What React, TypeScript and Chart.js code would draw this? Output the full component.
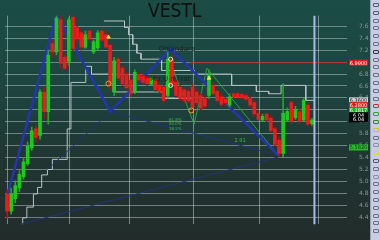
import React, { useEffect, useRef } from 'react';
import { Chart, registerables } from 'chart.js';
Chart.register(...registerables);

// ---- candle data (price) ----
const openP = [4.79,4.50,4.71,4.89,5.08,5.30,5.56,5.88,5.77,6.50,6.17,7.31,7.17,7.71,7.08,7.01,7.75,7.58,7.49,7.25,7.52,7.17,7.24,7.52,7.46,7.28,6.50,7.05,6.90,6.80,6.69,6.50,6.79,6.76,6.73,6.63,6.71,6.61,6.58,6.44,7.05,6.66,6.58,6.54,6.51,6.58,6.50,6.44,6.39,6.44,6.61,6.51,6.42,6.38,6.28,6.47,6.47,6.46,6.44,6.39,6.32,6.14,6.03,6.13,6.06,5.88,5.69,5.47,6.03,6.32,6.07,6.17,6.03,6.28,5.97];
const highP = [4.86,4.89,5.01,5.18,5.40,5.66,5.91,5.93,6.54,6.58,7.20,7.37,7.78,7.78,7.12,7.75,7.78,7.60,7.53,7.52,7.55,7.37,7.53,7.56,7.52,7.31,7.08,7.08,6.93,6.83,6.73,6.87,6.83,6.79,6.76,6.76,6.76,6.64,6.61,7.17,7.12,6.70,6.61,6.58,6.55,6.64,6.54,6.47,6.42,6.87,6.66,6.54,6.47,6.41,6.47,6.50,6.50,6.48,6.47,6.42,6.35,6.17,6.13,6.14,6.09,5.91,5.74,6.64,6.23,6.36,6.26,6.22,6.39,6.32,6.06];
const lowP = [4.39,4.45,4.64,4.83,5.04,5.27,5.52,5.66,5.71,6.06,5.96,7.09,7.12,6.90,6.87,6.95,7.17,7.34,7.20,7.23,7.34,7.14,7.20,7.34,7.23,6.54,6.44,6.69,6.61,6.54,6.42,6.47,6.66,6.63,6.61,6.61,6.51,6.47,6.32,6.39,6.55,6.41,6.36,6.33,6.32,6.17,6.29,6.20,6.23,6.39,6.44,6.33,6.26,6.26,6.25,6.39,6.39,6.38,6.35,6.25,6.09,6.03,6.00,6.00,5.82,5.59,5.41,5.41,6.00,5.96,6.04,5.97,6.00,5.93,5.94];
const closeP = [4.50,4.79,4.93,5.12,5.33,5.59,5.85,5.74,6.50,6.17,7.12,7.17,7.74,6.98,6.90,7.71,7.23,7.39,7.25,7.46,7.39,7.34,7.49,7.37,7.25,6.61,7.02,6.73,6.64,6.57,6.47,6.83,6.70,6.66,6.64,6.73,6.54,6.50,6.36,7.05,6.61,6.44,6.39,6.36,6.35,6.25,6.32,6.23,6.26,6.79,6.47,6.36,6.29,6.32,6.42,6.42,6.41,6.41,6.38,6.28,6.13,6.04,6.09,6.03,5.85,5.62,5.47,6.14,6.17,6.00,6.20,6.00,6.36,5.96,6.03];

// ---- axes ----
const yTicks = [7.6,7.4,7.2,7.0,6.8,6.6,6.4,6.2,6.0,5.8,5.6,5.4,5.2,5.0,4.8,4.6,4.4];
const xGridIdx = [7.6, 22.5, 36.8, 53.6, 68.9, 82.5];
const yMin = 4.28, yMax = 7.78, xMin = -0.5, xMax = 82.5;

// ---- overlays (index, price) ----
const upperStep = [[23.5,7.69],[28.5,7.69],[28.5,7.58],[29.5,7.58],[29.5,7.46],[30.5,7.46],[30.5,7.30],[31.5,7.30],[31.5,7.15],[32.5,7.15],[32.5,7.05],[37.5,7.05],[37.5,6.86],[45.5,6.86],[45.5,6.80],[54.5,6.80],[54.5,6.61],[60.5,6.61],[60.5,6.51],[63.5,6.51],[63.5,6.47],[66.5,6.47],[66.5,6.61],[72.5,6.61],[72.5,6.36],[74.6,6.36]];
const lowerStep = [[3.8,4.28],[3.8,4.39],[4.8,4.39],[4.8,4.57],[6.4,4.57],[6.4,4.79],[7.4,4.79],[7.4,4.90],[8.4,4.90],[8.4,5.11],[9.8,5.11],[9.8,5.20],[11,5.20],[11,5.37],[14.6,5.37],[14.6,5.88],[15.5,5.88],[15.5,6.66],[19.1,6.66],[19.1,6.93],[20.5,6.93],[20.5,6.80],[25.8,6.80],[25.8,6.50],[37.8,6.50],[37.8,6.39],[45,6.39]];
const zigzag = [[-0.5,4.62],[12,7.80],[25,6.17],[39.7,7.22],[65.8,5.44]];
const thinLineA = [[3.1,4.28],[65.8,5.41]];
const thinLineB = [[25.1,6.17],[65.8,5.44]];
const thinLineC = [[9.8,5.20],[25.1,6.17]];
const greenLine = [[40.2,6.90],[45.4,5.96],[48.5,6.90],[65.8,5.44]];
const redLevel = [[44.2,6.99],[82.5,6.99]];
const nowLine = [[74.6,yMin],[74.6,yMax]];
const orangeRings = [[24.6,6.64],[44.7,6.19]];
const whiteRings = [[39.7,7.05],[39.7,6.61]];
const yellowMarks = [[24.6,7.42],[49,6.73]];

const annTexts = ['Ohlandara', 'Mu:U n Frat', '61.8%', '50.0%', '38.2%', '2.91'];
const annX = [36.8, 34.7, 39.3, 39.3, 39.3, 55.2];
const annY = [7.28, 6.77, 6.06, 5.99, 5.92, 5.72];

const markerPrices = [6.99, 6.36, 6.28, 6.19, 6.11, 6.04, 5.57];
const markerTexts = ['6.9900', '6.3600', '6.2800', '6.1817', '6.04', '6.04', '5.5820'];
const markerBg = ['#e01818', '#cfcfcf', '#e01818', '#18b818', '#050505', '#050505', '#20c020'];
const markerFg = ['#ffffff', '#222222', '#ffffff', '#ffffff', '#ffffff', '#ffffff', '#0a3a0a'];

const toolIconColors = ['#555a70','#555a70','#6a6f88','#6a6f88','#6a6f88','#6a6f88','#333','#6a6f88','#6a6f88','#6a6f88','#6a6f88','#6a6f88','#6a6f88','#c03030','#30a030','#2a8a2a','#d0c020','#6a6f88','#8a8fa8','#e8d040','#555a70','#6a6f88','#8a8fa8','#6a6f88','#6a6f88','#6a6f88','#6a6f88','#6a6f88','#6a6f88','#6a6f88'];

const pts = (a: number[][]) => a.map(([x, y]) => ({ x, y }));

const App = () => {
  const ref = useRef<HTMLCanvasElement>(null);
  useEffect(() => {
    if (!ref.current) return;
    const bodyColors = openP.map((o, i) => (closeP[i] >= o ? '#1ec81e' : '#f01a1a'));
    const wickColors = openP.map((o, i) => (closeP[i] >= o ? '#22a822' : '#a81414'));
    const lineDs = (data: number[][], color: string, width: number, order: number) => ({
      type: 'line' as const, data: pts(data), borderColor: color, borderWidth: width,
      pointRadius: 0, tension: 0, fill: false, order,
    });
    const overlay = {
      id: 'overlay',
      afterDatasetsDraw(chart: any) {
        const { ctx, chartArea } = chart;
        const xs = chart.scales.x, ys = chart.scales.y;
        ctx.save();
        ctx.textBaseline = 'top';
        ctx.textAlign = 'left';
        annTexts.forEach((t, i) => {
          const isGreen = i >= 2;
          ctx.fillStyle = isGreen ? '#2fc040' : '#1b2422';
          ctx.font = (i >= 2 && i <= 4 ? '4px' : i === 5 ? '5px' : '7px') + ' "DejaVu Sans"';
          ctx.fillText(t, xs.getPixelForValue(annX[i]), ys.getPixelForValue(annY[i]));
        });
        markerPrices.forEach((p, i) => {
          const y = ys.getPixelForValue(p);
          const x0 = chartArea.right + 2;
          ctx.fillStyle = markerBg[i];
          ctx.fillRect(x0, y - 3, 19, 6);
          ctx.fillStyle = markerFg[i];
          ctx.font = '5px "DejaVu Sans"';
          ctx.textBaseline = 'middle';
          ctx.textAlign = 'center';
          ctx.fillText(markerTexts[i], x0 + 9.5, y + 0.5);
        });
        ctx.restore();
      },
    };
    const chart = new Chart(ref.current, {
      type: 'bar',
      data: {
        datasets: [
          lineDs(upperStep, '#b9c4c2', 1, 8),
          lineDs(lowerStep, '#b9c4c2', 1, 8),
          lineDs(thinLineA, '#22347a', 1, 7),
          lineDs(thinLineB, '#22347a', 1, 7),
          lineDs(thinLineC, '#22347a', 1, 7),
          lineDs(zigzag, '#2534b0', 2.5, 6),
          lineDs(greenLine, '#2da03c', 1, 6),
          lineDs(redLevel, '#c82222', 1, 6),
          {
            type: 'bar' as const, data: openP.map((_, i) => ({ x: i, y: [lowP[i], highP[i]] })),
            backgroundColor: wickColors, barThickness: 1, grouped: false, order: 4,
          },
          {
            type: 'bar' as const, data: openP.map((o, i) => ({ x: i, y: [Math.min(o, closeP[i]), Math.max(o, closeP[i])] })),
            backgroundColor: bodyColors, barThickness: 3, grouped: false, order: 3,
          },
          lineDs(nowLine, '#a8bce8', 2, 2),
          {
            type: 'line' as const, data: pts(orangeRings), showLine: false, pointRadius: 2.5,
            pointBorderColor: '#f0a020', pointBackgroundColor: 'rgba(0,0,0,0)', pointBorderWidth: 1, order: 1,
          },
          {
            type: 'line' as const, data: pts(whiteRings), showLine: false, pointRadius: 2,
            pointBorderColor: '#d8f0d8', pointBackgroundColor: 'rgba(0,0,0,0)', pointBorderWidth: 1, order: 1,
          },
          {
            type: 'line' as const, data: pts(yellowMarks), showLine: false, pointRadius: 2, pointStyle: 'triangle',
            pointBorderColor: '#f0e040', pointBackgroundColor: '#f0e040', order: 1,
          },
        ] as any,
      },
      options: {
        animation: false,
        responsive: false,
        maintainAspectRatio: false,
        layout: { padding: 0 },
        plugins: { legend: { display: false }, tooltip: { enabled: false }, title: { display: false } },
        scales: {
          x: {
            type: 'linear', min: xMin, max: xMax, offset: false,
            afterBuildTicks: (s: any) => { s.ticks = xGridIdx.map((v) => ({ value: v })); },
            afterFit: (s: any) => { s.height = 0; },
            ticks: { display: false },
            grid: { color: 'rgba(190,205,202,0.55)', drawTicks: false, lineWidth: 1 },
            border: { display: false },
          },
          y: {
            type: 'linear', position: 'right', min: yMin, max: yMax,
            afterBuildTicks: (s: any) => { s.ticks = yTicks.map((v) => ({ value: v })); },
            afterFit: (s: any) => { s.width = 23; },
            ticks: {
              callback: (v: any) => Number(v).toFixed(1),
              font: { size: 6, family: 'DejaVu Sans' }, color: '#8a9896', padding: 12,
            },
            grid: { color: 'rgba(190,205,202,0.5)', drawTicks: false, lineWidth: 1 },
            border: { display: false },
          },
        },
      } as any,
      plugins: [overlay],
    });
    return () => chart.destroy();
  }, []);

  return (
    <div style={{ position: 'fixed', left: 0, top: 0, width: 380, height: 240, overflow: 'hidden',
      background: 'linear-gradient(180deg, #1b4c46 0%, #1d4540 35%, #203632 65%, #222c2b 100%)' }}>
      <canvas ref={ref} width={370} height={240} style={{ position: 'absolute', left: 0, top: 0, width: 370, height: 240 }} />
      <div style={{ position: 'absolute', left: 148, top: -2, fontFamily: '"DejaVu Sans Condensed", "DejaVu Sans"', fontSize: 19, color: '#0c0f0e', lineHeight: '24px' }}>VESTL</div>
      <div style={{ position: 'absolute', left: 370, top: 0, width: 10, height: 240, background: '#c9cde2', borderLeft: '1px solid #9aa0bc', boxSizing: 'border-box' }}>
        {toolIconColors.map((c, i) => (
          <div key={i} style={{ position: 'absolute', left: 2, top: 3 + i * 7.8, width: 6, height: 4, border: `1px solid ${c}`, boxSizing: 'border-box', borderRadius: 1 }} />
        ))}
      </div>
    </div>
  );
};

export default App;
